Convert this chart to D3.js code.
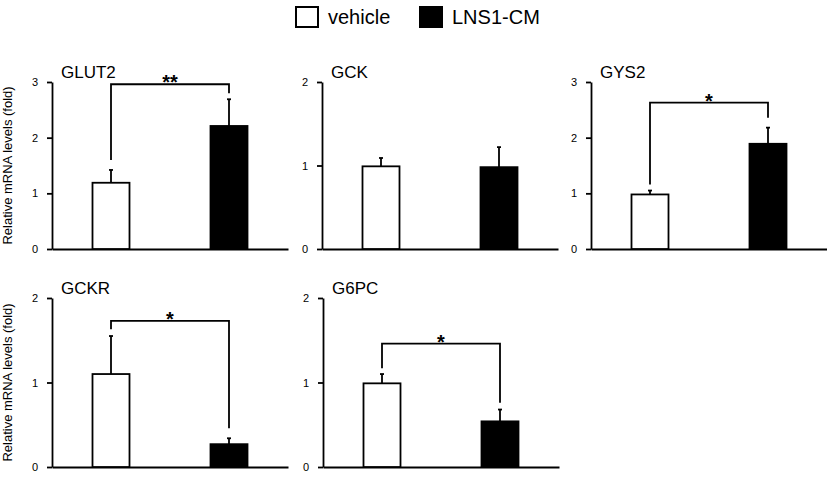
<!DOCTYPE html>
<html>
<head>
<meta charset="utf-8">
<script src="https://cdn.jsdelivr.net/npm/d3@7/dist/d3.min.js"></script>
<style>
  html, body { margin: 0; padding: 0; background: #fff; }
  svg { display: block; font-family: "Liberation Sans", Arial, Helvetica, sans-serif; }
</style>
</head>
<body>
<svg id="chart" width="827" height="477"></svg>
<script>
// ---- data ----
const genes = ["GLUT2", "GCK", "GYS2", "GCKR", "G6PC"];
const groups = ["vehicle", "LNS1-CM"];
const vehicleMean = [1.19, 0.99, 0.98, 1.10, 0.99];
const vehicleErr  = [0.23, 0.10, 0.07, 0.45, 0.11];
const lnsMean     = [2.21, 0.98, 1.89, 0.27, 0.54];
const lnsErr      = [0.48, 0.24, 0.29, 0.07, 0.14];
const yMax        = [3, 2, 3, 2, 2];
const yTicks      = [[0,1,2,3],[0,1,2],[0,1,2,3],[0,1,2],[0,1,2]];
const signif      = ["**", "", "*", "*", "*"];
const bracketLevel    = [2.96, null, 2.63, 1.73, 1.46];
const bracketLeftEnd  = [1.60, null, 1.16, 1.63, 1.17];
const bracketRightEnd = [2.80, null, 2.36, 0.46, 0.76];
const yLabel = "Relative mRNA levels (fold)";

// ---- layout ----
const panelX = [52, 322, 591, 52, 323];
const panelW = 236;
const rowOf = [0, 0, 0, 1, 1];
const rowBase = [249, 467];
const rowTop = [82, 298];
const barW = 37;
const lw = 1.8;

const svg = d3.select("#chart");

genes.forEach((g, i) => {
  const r = rowOf[i];
  const x = d3.scalePoint().domain(groups).range([panelX[i], panelX[i] + panelW]).padding(0.5);
  const y = d3.scaleLinear().domain([0, yMax[i]]).range([rowBase[r], rowTop[r]]);
  const gp = svg.append("g");

  // y axis
  const ya = gp.append("g")
    .attr("transform", `translate(${panelX[i]},0)`)
    .call(d3.axisLeft(y).tickValues(yTicks[i]).tickFormat(d3.format("d")).tickSize(5).tickSizeOuter(0).tickPadding(9));
  ya.select(".domain").attr("stroke", "#000").attr("stroke-width", lw);
  ya.selectAll(".tick line").attr("stroke", "#000").attr("stroke-width", lw);
  ya.selectAll(".tick text").attr("font-size", 11).attr("fill", "#000")
    .attr("font-family", "'Liberation Sans', Arial, sans-serif");

  // x axis line
  const xa = gp.append("g")
    .attr("transform", `translate(0,${y(0)})`)
    .call(d3.axisBottom(d3.scaleLinear().domain([0, 1]).range([panelX[i], panelX[i] + panelW])).ticks(0).tickSize(0));
  xa.select(".domain").attr("stroke", "#000").attr("stroke-width", lw);
  xa.selectAll("text").remove();

  const means = [vehicleMean[i], lnsMean[i]];
  const errs = [vehicleErr[i], lnsErr[i]];

  // error bars
  groups.forEach((grp, k) => {
    const cx = x(grp);
    gp.append("line").attr("x1", cx).attr("x2", cx)
      .attr("y1", y(means[k])).attr("y2", y(means[k] + errs[k]))
      .attr("stroke", "#000").attr("stroke-width", lw);
    gp.append("line").attr("x1", cx - 2).attr("x2", cx + 2)
      .attr("y1", y(means[k] + errs[k])).attr("y2", y(means[k] + errs[k]))
      .attr("stroke", "#000").attr("stroke-width", lw);
  });

  // bars
  gp.selectAll("rect.bar").data(groups).enter().append("rect")
    .attr("x", d => x(d) - barW / 2)
    .attr("width", barW)
    .attr("y", (d, k) => y(means[k]))
    .attr("height", (d, k) => y(0) - y(means[k]))
    .attr("fill", (d, k) => k === 0 ? "#fff" : "#000")
    .attr("stroke", "#000").attr("stroke-width", lw);

  // title
  gp.append("text").attr("x", panelX[i] + 9).attr("y", rowTop[r] - 4)
    .attr("font-size", 17).attr("fill", "#000").text(g);

  // significance bracket
  if (bracketLevel[i] !== null) {
    const x1 = x(groups[0]), x2 = x(groups[1]);
    const path = d3.path();
    path.moveTo(x1, y(bracketLeftEnd[i]));
    path.lineTo(x1, y(bracketLevel[i]));
    path.lineTo(x2, y(bracketLevel[i]));
    path.lineTo(x2, y(bracketRightEnd[i]));
    gp.append("path").attr("d", path.toString()).attr("fill", "none")
      .attr("stroke", "#000").attr("stroke-width", lw);
    gp.append("text").attr("x", (x1 + x2) / 2).attr("y", y(bracketLevel[i]) + 5)
      .attr("text-anchor", "middle").attr("font-size", 20).attr("font-weight", "bold")
      .attr("fill", "#000").text(signif[i]);
  }
});

// y axis labels (left column)
[0, 1].forEach(r => {
  svg.append("text")
    .attr("transform", `translate(12,${(rowBase[r] + rowTop[r]) / 2}) rotate(-90)`)
    .attr("text-anchor", "middle").attr("font-size", 13).attr("fill", "#000")
    .text(yLabel);
});

// legend
const legendX = [296, 420];
groups.forEach((grp, k) => {
  svg.append("rect").attr("x", legendX[k]).attr("y", 7).attr("width", 22).attr("height", 20)
    .attr("fill", k === 0 ? "#fff" : "#000").attr("stroke", "#000").attr("stroke-width", 2);
  svg.append("text").attr("x", legendX[k] + 32).attr("y", 24)
    .attr("font-size", 20).attr("fill", "#000").text(grp);
});
</script>
</body>
</html>
